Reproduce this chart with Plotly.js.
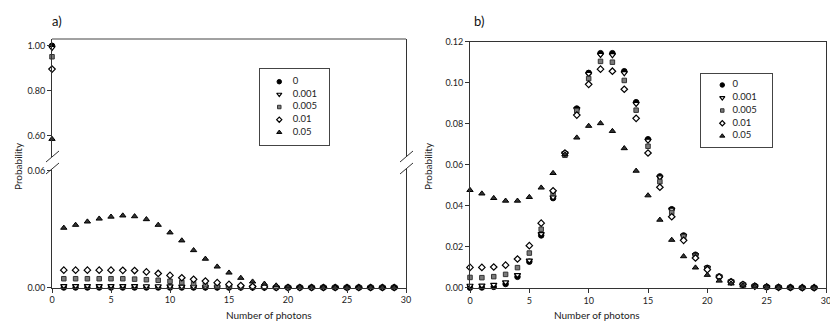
<!DOCTYPE html>
<html>
<head>
<meta charset="utf-8">
<script src="https://cdn.plot.ly/plotly-3.0.1.min.js"></script>
<style>
  html, body { margin: 0; padding: 0; background: #fff; }
  #chart { width: 830px; height: 333px; }
</style>
</head>
<body>
<div id="chart"></div>
<script>
// photon-number distributions, two panels, five noise levels each
const photons = Array.from({ length: 30 }, (_, i) => i);
const seriesNames = ['0', '0.001', '0.005', '0.01', '0.05'];
const xTicks = [0, 5, 10, 15, 20, 25, 30];

// panel a) (broken y axis)
const a0   = [1.000, 0, 0, 0, 0, 0, 0, 0, 0, 0, 0, 0, 0, 0, 0, 0, 0, 0, 0, 0, 0, 0, 0, 0, 0, 0, 0, 0, 0, 0];
const a001 = [0.991, 0.0008, 0.0008, 0.0008, 0.0008, 0.0008, 0.0008, 0.0008, 0.0007, 0.0007, 0.0006, 0.0005, 0.0004, 0.0003, 0.0002, 0.0002, 0.0001, 0.0001, 0, 0, 0, 0, 0, 0, 0, 0, 0, 0, 0, 0];
const a005 = [0.951, 0.0045, 0.0045, 0.0045, 0.0045, 0.0045, 0.0045, 0.0043, 0.0040, 0.0037, 0.0032, 0.0026, 0.0020, 0.0014, 0.0009, 0.0006, 0.0003, 0.0002, 0.0001, 0, 0, 0, 0, 0, 0, 0, 0, 0, 0, 0];
const a01  = [0.896, 0.0089, 0.0089, 0.0089, 0.0089, 0.0089, 0.0088, 0.0087, 0.0080, 0.0072, 0.0062, 0.0050, 0.0042, 0.0033, 0.0025, 0.0016, 0.0010, 0.0005, 0.0003, 0.0001, 0, 0, 0, 0, 0, 0, 0, 0, 0, 0];
const a05  = [0.585, 0.0306, 0.0321, 0.0338, 0.0353, 0.0363, 0.0369, 0.0365, 0.0350, 0.0321, 0.0282, 0.0241, 0.0191, 0.0147, 0.0107, 0.0076, 0.0049, 0.0030, 0.0019, 0.0010, 0.0004, 0.0002, 0.0001, 0, 0, 0, 0, 0, 0, 0];

// panel b)
const b0   = [0.0000, 0.0001, 0.0004, 0.0018, 0.0053, 0.0127, 0.0255, 0.0437, 0.0655, 0.0874, 0.1048, 0.1144, 0.1144, 0.1056, 0.0905, 0.0724, 0.0543, 0.0383, 0.0255, 0.0161, 0.0097, 0.0055, 0.0030, 0.0016, 0.0008, 0.0004, 0.0002, 0.0001, 0, 0];
const b001 = [0.0010, 0.0011, 0.0014, 0.0027, 0.0062, 0.0133, 0.0262, 0.0441, 0.0656, 0.0872, 0.1043, 0.1136, 0.1135, 0.1047, 0.0897, 0.0718, 0.0539, 0.0381, 0.0254, 0.0160, 0.0097, 0.0055, 0.0030, 0.0016, 0.0008, 0.0004, 0.0002, 0.0001, 0, 0];
const b005 = [0.0050, 0.0049, 0.0054, 0.0065, 0.0098, 0.0169, 0.0285, 0.0460, 0.0646, 0.0863, 0.1020, 0.1104, 0.1100, 0.1011, 0.0866, 0.0690, 0.0517, 0.0367, 0.0249, 0.0154, 0.0093, 0.0053, 0.0029, 0.0015, 0.0008, 0.0004, 0.0002, 0.0001, 0, 0];
const b01  = [0.0099, 0.0099, 0.0101, 0.0110, 0.0140, 0.0205, 0.0315, 0.0473, 0.0657, 0.0842, 0.0992, 0.1066, 0.1056, 0.0968, 0.0826, 0.0657, 0.0490, 0.0346, 0.0231, 0.0145, 0.0088, 0.0052, 0.0028, 0.0015, 0.0008, 0.0004, 0.0002, 0.0001, 0, 0];
const b05  = [0.0476, 0.0459, 0.0437, 0.0424, 0.0424, 0.0442, 0.0488, 0.0559, 0.0650, 0.0732, 0.0789, 0.0802, 0.0764, 0.0680, 0.0570, 0.0450, 0.0331, 0.0233, 0.0153, 0.0098, 0.0062, 0.0034, 0.0020, 0.0010, 0.0005, 0.0002, 0.0001, 0, 0, 0];

const panelA = [a0, a001, a005, a01, a05];
const panelB = [b0, b001, b005, b01, b05];

const W = 830, H = 333;
const px = v => v / W;
const py = v => 1 - v / H;

const LINE = '#333';
const FONT = 'Lato, "Open Sans", sans-serif';

const markerStyles = [
  { symbol: 'circle',        color: '#000',    line: { color: '#000', width: 1 } },
  { symbol: 'triangle-down', color: '#fff',    line: { color: '#000', width: 1.2 } },
  { symbol: 'square',        color: '#7a7a7a', line: { color: '#333', width: 1 } },
  { symbol: 'diamond',       color: '#fff',    line: { color: '#000', width: 1.2 } },
  { symbol: 'triangle-up',   color: '#333',    line: { color: '#000', width: 1 } },
];
const markerSizes = [5.5, 5.5, 4.5, 5, 5.5];

// broken axis ranges for panel a)
const lowRange = [0, 0.0608];
const highRange = [0.505, 1.03];

const traces = [];
seriesNames.forEach((name, i) => {
  const m = Object.assign({ size: markerSizes[i] }, markerStyles[i]);
  const base = { type: 'scatter', mode: 'markers', marker: m, showlegend: false, cliponaxis: false, hoverinfo: 'x+y+name', name };
  traces.push(Object.assign({}, base, {
    x: photons, y: panelA[i].map(v => v <= lowRange[1] ? v : null), xaxis: 'x', yaxis: 'y',
  }));
  traces.push(Object.assign({}, base, {
    x: photons, y: panelA[i].map(v => v >= highRange[0] ? v : null), xaxis: 'x', yaxis: 'y2',
  }));
  traces.push(Object.assign({}, base, {
    x: photons, y: panelB[i], xaxis: 'x2', yaxis: 'y3',
  }));
  const lm = Object.assign({}, m, { size: markerSizes[i] - 1 });
  traces.push(Object.assign({}, base, { x: [0], y: [i], marker: lm, xaxis: 'x3', yaxis: 'y4', hoverinfo: 'skip' }));
  traces.push(Object.assign({}, base, { x: [0], y: [i], marker: lm, xaxis: 'x4', yaxis: 'y5', hoverinfo: 'skip' }));
});

// legend labels
[['x3', 'y4', 0.85], ['x4', 'y5', 0.85]].forEach(([xa, ya, tx]) => {
  traces.push({
    type: 'scatter', mode: 'text', x: seriesNames.map(() => tx), y: seriesNames.map((_, i) => i),
    text: seriesNames, textposition: 'middle right', xaxis: xa, yaxis: ya,
    textfont: { family: FONT, size: 9.5, color: '#222' }, showlegend: false, hoverinfo: 'skip', cliponaxis: false,
  });
});

const tickAxis = {
  showline: true, linecolor: LINE, linewidth: 1, ticks: 'outside', ticklen: 4, tickcolor: LINE,
  showgrid: false, zeroline: false, tickfont: { family: FONT, size: 9, color: '#222' }, fixedrange: true,
  ticklabeloverflow: 'allow',
};
const boxAxis = {
  showline: true, mirror: true, linecolor: '#444', linewidth: 1, showgrid: false, zeroline: false,
  showticklabels: false, ticks: '', fixedrange: true,
};

const layout = {
  width: W, height: H,
  margin: { l: 0, r: 0, t: 0, b: 0 },
  paper_bgcolor: '#fff', plot_bgcolor: 'rgba(0,0,0,0)',
  font: { family: FONT, color: '#222' },
  showlegend: false,
  xaxis: Object.assign({}, tickAxis, { domain: [px(52), px(406)], range: [0, 30], anchor: 'y', tickvals: xTicks }),
  yaxis: Object.assign({}, tickAxis, { domain: [py(287.5), py(169)], range: lowRange, anchor: 'x', mirror: true, tickvals: [0, 0.06], tickformat: '.2f' }),
  yaxis2: Object.assign({}, tickAxis, { domain: [py(157), py(39)], range: highRange, anchor: 'x', mirror: true, tickvals: [0.6, 0.8, 1.0], tickformat: '.2f' }),
  xaxis2: Object.assign({}, tickAxis, { domain: [px(470), px(826)], range: [0, 30], anchor: 'y3', mirror: true, tickvals: xTicks }),
  yaxis3: Object.assign({}, tickAxis, { domain: [py(287.7), py(41.7)], range: [0, 0.12], anchor: 'x2', mirror: true, dtick: 0.02, tickformat: '.2f' }),
  xaxis3: Object.assign({}, boxAxis, { domain: [px(260), px(329.3)], range: [-1.225, 3.18], anchor: 'y4' }),
  yaxis4: Object.assign({}, boxAxis, { domain: [py(145), py(69.3)], range: [5.0, -0.98], anchor: 'x3' }),
  xaxis4: Object.assign({}, boxAxis, { domain: [px(701), px(771.7)], range: [-1.77, 4.11], anchor: 'y5' }),
  yaxis5: Object.assign({}, boxAxis, { domain: [py(147.3), py(74)], range: [4.885, -0.862], anchor: 'x4' }),
  shapes: [
    // top border of panel a)
    { type: 'line', xref: 'paper', yref: 'paper', x0: px(52), x1: px(406), y0: py(39), y1: py(39), line: { color: '#444', width: 1 } },
    // axis break marks
    { type: 'line', xref: 'paper', yref: 'paper', x0: px(46), x1: px(59), y0: py(162), y1: py(151), line: { color: LINE, width: 1 } },
    { type: 'line', xref: 'paper', yref: 'paper', x0: px(46), x1: px(59), y0: py(174), y1: py(163), line: { color: LINE, width: 1 } },
    { type: 'line', xref: 'paper', yref: 'paper', x0: px(400), x1: px(413), y0: py(162), y1: py(151), line: { color: LINE, width: 1 } },
    { type: 'line', xref: 'paper', yref: 'paper', x0: px(400), x1: px(413), y0: py(174), y1: py(163), line: { color: LINE, width: 1 } },
  ],
  annotations: [
    { text: 'a)', xref: 'paper', yref: 'paper', x: px(50), y: py(21), xanchor: 'left', yanchor: 'middle', showarrow: false, font: { family: FONT, size: 13, color: '#111' } },
    { text: 'b)', xref: 'paper', yref: 'paper', x: px(472), y: py(21), xanchor: 'left', yanchor: 'middle', showarrow: false, font: { family: FONT, size: 13, color: '#111' } },
    { text: 'Probability', xref: 'paper', yref: 'paper', x: px(10), y: py(166), textangle: -90, showarrow: false, font: { family: FONT, size: 10, color: '#222' } },
    { text: 'Probability', xref: 'paper', yref: 'paper', x: px(428), y: py(166), textangle: -90, showarrow: false, font: { family: FONT, size: 10, color: '#222' } },
    { text: 'Number of photons', xref: 'paper', yref: 'paper', x: px(223.5), y: py(323), showarrow: false, font: { family: FONT, size: 10, color: '#222' } },
    { text: 'Number of photons', xref: 'paper', yref: 'paper', x: px(642), y: py(323), showarrow: false, font: { family: FONT, size: 10, color: '#222' } },
  ],
};

Plotly.newPlot('chart', traces, layout, { displayModeBar: false, staticPlot: true });
</script>
</body>
</html>
